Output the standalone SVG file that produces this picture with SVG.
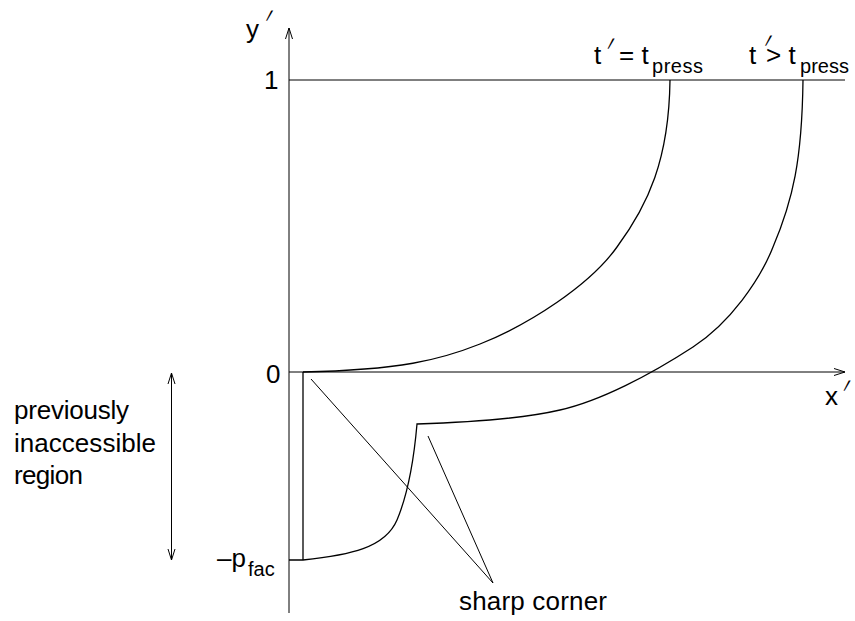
<svg xmlns="http://www.w3.org/2000/svg" width="855" height="621" viewBox="0 0 855 621">
<style>
.t{font-family:"Liberation Sans",Arial,sans-serif;font-size:26px;fill:#000}
.s{font-family:"Liberation Sans",Arial,sans-serif;font-size:20px;fill:#000}
.p{font-family:"Liberation Sans",Arial,sans-serif;font-size:20px;fill:#000}
.ln{fill:none;stroke:#000;stroke-width:1}
.cv{fill:none;stroke:#000;stroke-width:1.3}
</style>
<rect width="855" height="621" fill="#fff"/>
<g id="axes">
  <line class="ln" x1="289" y1="613" x2="289" y2="28"/>
  <polyline class="ln" points="285.5,39 289,28 292.5,39"/>
  <line class="ln" x1="289" y1="372" x2="845" y2="372"/>
  <polyline class="ln" points="834,368.5 845,372 834,375.5"/>
  <line class="ln" x1="289" y1="80" x2="845" y2="80"/>
</g>
<g id="labels">
  <text class="t" x="246" y="38">y</text>
  <text class="p" transform="translate(257.5,37.5) skewX(-24) scale(1,2)">′</text>
  <text class="t" x="264" y="89">1</text>
  <text class="t" x="266" y="383">0</text>
  <text class="t" x="825" y="405">x</text>
  <text class="p" transform="translate(835,407.5) skewX(-24) scale(1,2)">′</text>
  <text class="t" x="217" y="567">–p</text>
  <text class="s" x="248" y="576">fac</text>
</g>
<g id="curve-t-press">
  <text class="t" x="594" y="64">t</text>
  <text class="p" transform="translate(599,66.4) skewX(-24) scale(1,2)">′</text>
  <text class="t" x="619" y="64">= t</text>
  <text class="s" x="652" y="73" textLength="51">press</text>
  <path class="cv" d="M303,372 C400,370 440,360 480,344 C530,324 590,285 617,247 C648,205 669,160 670,80"/>
</g>
<g id="curve-t-later">
  <text class="t" x="749" y="64">t</text>
  <text class="p" transform="translate(756.4,63.4) skewX(-24) scale(1,2)">′</text>
  <text class="t" x="766" y="64">&gt; t</text>
  <text class="s" x="800" y="73" textLength="49">press</text>
  <path class="cv" d="M289,560 L303,560 C350,555 385,548 397,520 C405,501 413,470 417,424 C480,422 530,417 560,410 C600,401 650,375 693,347 C730,323 760,280 773,247 C793,200 802,160 803,80"/>
</g>
<g id="wall">
  <line class="cv" x1="303" y1="372" x2="303" y2="560"/>
</g>
<g id="region">
  <text class="t" x="14" y="419" textLength="115">previously</text>
  <text class="t" x="14" y="452" textLength="142">inaccessible</text>
  <text class="t" x="14" y="484" textLength="69">region</text>
  <line class="ln" x1="171.5" y1="373" x2="171.5" y2="560"/>
  <polyline class="ln" points="168,384 171.5,373 175,384"/>
  <polyline class="ln" points="168,549 171.5,560 175,549"/>
</g>
<g id="sharp-corner">
  <line class="ln" x1="311" y1="379" x2="493" y2="583"/>
  <line class="ln" x1="428" y1="436" x2="493" y2="583"/>
  <text class="t" x="459" y="610" textLength="148">sharp corner</text>
</g>
</svg>
